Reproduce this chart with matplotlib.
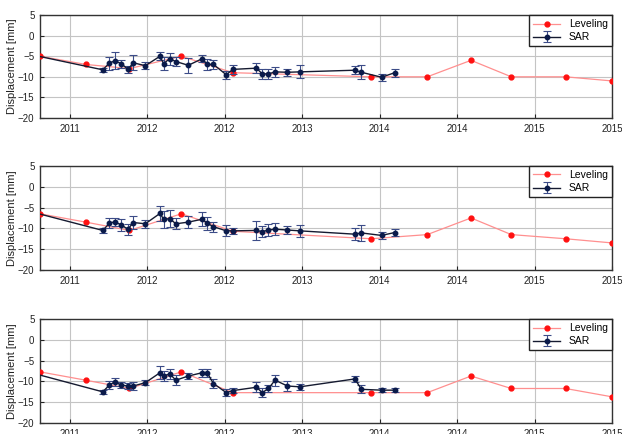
import numpy as np
import matplotlib.pyplot as plt
import matplotlib.dates as mdates

plt.rcParams['font.family'] = ['Liberation Sans', 'DejaVu Sans']

# Leveling campaigns (dates shared by all three benchmarks)
lev_dates = ['2011-08-08', '2011-12-04', '2012-03-26', '2012-08-07', '2012-12-18',
             '2013-12-10', '2014-05-04', '2014-08-25', '2014-12-07', '2015-04-26',
             '2015-08-24']
lev_1 = [-5.0, -7.0, -8.0, -5.0, -9.0, -10.0, -10.0, -6.0, -10.0, -10.0, -11.0]
lev_2 = [-6.5, -8.5, -10.5, -6.5, -10.7, -12.5, -11.5, -7.5, -11.5, -12.5, -13.5]
lev_3 = [-7.7, -9.7, -11.7, -7.7, -12.7, -12.7, -12.7, -8.7, -11.7, -11.7, -13.7]

# SAR acquisitions (first one lies just before the plotted range)
sar_dates = ['2011-07-20', '2012-01-17', '2012-02-03', '2012-02-17', '2012-03-05',
             '2012-03-22', '2012-04-05', '2012-05-06', '2012-06-13', '2012-06-22',
             '2012-07-08', '2012-07-24', '2012-08-25', '2012-09-30', '2012-10-13',
             '2012-10-29', '2012-12-01', '2012-12-18', '2013-02-17', '2013-03-04',
             '2013-03-20', '2013-04-06', '2013-05-08', '2013-06-09', '2013-10-29',
             '2013-11-15', '2014-01-06', '2014-02-09']
sar_1 = [-4.7, -8.3, -6.7, -6.1, -6.8, -8.2, -6.6, -7.3, -5.0, -6.8, -5.6, -6.3, -7.2,
         -5.6, -7.0, -7.0, -9.5, -8.2, -7.9, -9.3, -9.3, -8.8, -8.9, -8.8, -8.4, -8.9,
         -10.1, -9.0]
err_1 = [0.0, 0.5, 1.6, 2.1, 1.0, 0.8, 1.8, 0.9, 1.0, 1.5, 1.5, 1.0, 1.8,
         0.8, 1.3, 1.0, 1.0, 1.0, 1.2, 1.2, 1.2, 1.3, 0.9, 1.6, 1.0, 1.7,
         0.9, 1.0]
sar_2 = [-6.1, -10.5, -8.8, -8.4, -9.2, -10.2, -8.6, -8.9, -6.4, -7.8, -7.7, -8.9, -8.5,
         -7.8, -8.8, -9.6, -10.6, -10.6, -10.5, -10.8, -10.4, -10.2, -10.4, -10.6, -11.4,
         -11.1, -11.7, -11.0]
err_2 = [0.0, 0.5, 1.2, 1.0, 1.5, 1.3, 1.5, 1.0, 1.8, 2.0, 2.0, 1.3, 1.5,
         1.7, 1.5, 1.2, 1.3, 0.8, 2.3, 1.3, 1.5, 1.5, 1.0, 1.5, 1.5,
         2.0, 0.8, 0.8]
sar_3 = [-8.0, -12.5, -10.9, -10.1, -10.9, -11.1, -11.1, -10.3, -7.9, -8.7, -8.2, -9.7,
         -8.7, -7.9, -8.0, -10.5, -12.7, -12.2, -11.4, -12.7, -11.7, -9.7, -11.1, -11.3,
         -9.4, -11.9, -12.1, -12.1]
err_3 = [0.0, 0.5, 1.0, 1.0, 0.7, 0.8, 1.0, 0.6, 1.5, 1.2, 1.3, 1.2,
         0.8, 1.0, 1.0, 1.0, 0.8, 0.6, 1.2, 1.0, 0.8, 1.3, 1.2, 0.8,
         0.8, 1.0, 0.5, 0.5]

# ticks every 200 days, labelled with the year only
tick_start = '2011-10-24'
tick_labels = ['2011', '2012', '2012', '2013', '2014', '2014', '2015', '2015']
y_ticks = [-20, -15, -10, -5, 0, 5]

lev_x = mdates.datestr2num(lev_dates)
sar_x = mdates.datestr2num(sar_dates)
tick_x = mdates.datestr2num(tick_start) + 200 * np.arange(len(tick_labels))

fig = plt.figure(figsize=(6.22, 4.34), dpi=100)
boxes = [[0.0643, 0.7281, 0.9196, 0.2373],
         [0.0643, 0.3780, 0.9196, 0.2396],
         [0.0643, 0.0253, 0.9196, 0.2396]]
panels = [(lev_1, sar_1, err_1), (lev_2, sar_2, err_2), (lev_3, sar_3, err_3)]

for box, (lev, sar, err) in zip(boxes, panels):
    ax = fig.add_axes(box)
    ax.plot(lev_x, lev, '-', color='#ff8f8f', lw=0.9, marker='o', ms=3.5,
            mfc='#ff1010', mec='#ff1010', label='Leveling', zorder=3)
    ax.errorbar(sar_x, sar, yerr=err, fmt='-o', color='#151a30', lw=1.0, ms=3.2,
                mfc='#0a1a4a', mec='#0a1a4a', ecolor='#3c4c88', elinewidth=0.8,
                capsize=3, capthick=0.8, label='SAR', zorder=4)
    ax.set_xlim(lev_x[0], lev_x[-1])
    ax.set_ylim(-20, 5)
    ax.set_xticks(tick_x)
    ax.set_xticklabels(tick_labels)
    ax.set_yticks(y_ticks)
    ax.grid(True, color='#c4c4c4', lw=0.8)
    ax.set_axisbelow(True)
    ax.tick_params(direction='in', labelsize=7, length=3, colors='#222222', pad=4)
    for s in ax.spines.values():
        s.set_color('#333333')
        s.set_linewidth(1.0)
    ax.set_ylabel('Displacement [mm]', fontsize=8, labelpad=1, color='#222222')
    leg = ax.legend(loc='upper right', fontsize=7.5, fancybox=False, framealpha=1,
                    edgecolor='#222222', borderaxespad=0, handlelength=2.6,
                    borderpad=0.4, labelspacing=0.3)
    leg.get_frame().set_linewidth(1.0)

fig.savefig('out.png', dpi=100)
